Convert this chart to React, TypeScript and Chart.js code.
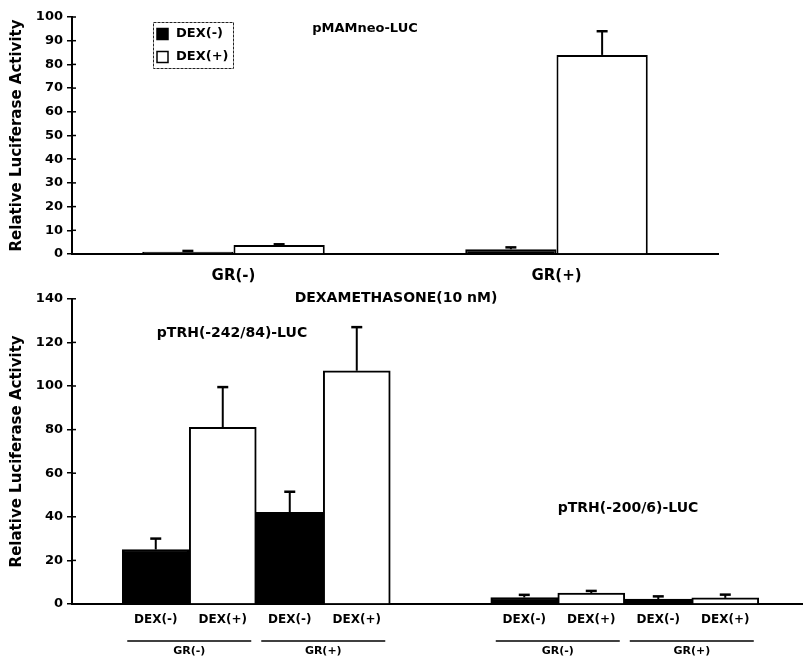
import React, { useEffect, useRef } from 'react';
import { Chart, registerables } from 'chart.js';

Chart.register(...registerables);

const FONT = '"DejaVu Sans", "Liberation Sans", sans-serif';

// ---------- shared labels ----------
const Y_TITLE = 'Relative Luciferase Activity';
const SERIES_NAMES = ['DEX(-)', 'DEX(+)'];

// ---------- top panel: pMAMneo-LUC ----------
const TOP_TITLE = 'pMAMneo-LUC';
const TOP_CATEGORIES = ['GR(-)', 'GR(+)'];
const MAM_DEX_MINUS = [1.0, 2.0];
const MAM_DEX_PLUS = [3.8, 84];
const MAM_DEX_MINUS_SD = [0.3, 0.8];
const MAM_DEX_PLUS_SD = [0.3, 10];
const TOP_Y_MAX = 100;
const TOP_Y_STEP = 10;

// ---------- bottom panel: pTRH constructs ----------
const BOTTOM_TITLE = 'DEXAMETHASONE(10 nM)';
const CONSTRUCTS = ['pTRH(-242/84)-LUC', 'pTRH(-200/6)-LUC'];
const GR_LABELS = ['GR(-)', 'GR(+)'];
const DEX_LABELS = ['DEX(-)', 'DEX(+)'];
const TRH242_DEX_MINUS = [25, 42];
const TRH242_DEX_PLUS = [81, 107];
const TRH242_DEX_MINUS_SD = [5, 9.5];
const TRH242_DEX_PLUS_SD = [18.5, 20];
const TRH200_DEX_MINUS = [3.0, 2.2];
const TRH200_DEX_PLUS = [5.0, 2.8];
const TRH200_DEX_MINUS_SD = [1.2, 1.3];
const TRH200_DEX_PLUS_SD = [1.0, 1.5];
const BOTTOM_Y_MAX = 140;
const BOTTOM_Y_STEP = 20;

// ---------- layout constants ----------
const W = 803;
const TOP_H = 287;
const BOT_H = 373;
const AXIS_W = 72;
const GROUP_STRIDE = 5.5;
const X_MIN = -1.25;
const X_MAX = 9.66;

const slot = (ci: number, gi: number, di: number) => ci * GROUP_STRIDE + gi * 2 + di;

const bold = (size: number) => ({ family: FONT, size, weight: 'bold' as const });

const errorBarPlugin = {
  id: 'errorBars',
  afterDatasetsDraw(chart: any) {
    const ctx = chart.ctx;
    const yScale = chart.scales.y;
    ctx.save();
    ctx.strokeStyle = '#000';
    chart.data.datasets.forEach((ds: any, i: number) => {
      const errs = ds.errorBars;
      if (!errs) return;
      const meta = chart.getDatasetMeta(i);
      meta.data.forEach((el: any, j: number) => {
        const err = errs[j];
        if (!err) return;
        const v = meta.controller.getParsed(j).y;
        const yTop = yScale.getPixelForValue(v + err);
        ctx.lineWidth = 2;
        ctx.beginPath();
        ctx.moveTo(el.x, el.y);
        ctx.lineTo(el.x, yTop);
        ctx.stroke();
        ctx.lineWidth = 2.5;
        ctx.beginPath();
        ctx.moveTo(el.x - 5.5, yTop);
        ctx.lineTo(el.x + 5.5, yTop);
        ctx.stroke();
      });
    });
    ctx.restore();
  },
};

const crossTickPlugin = {
  id: 'crossTicks',
  afterDatasetsDraw(chart: any) {
    const s = chart.scales.y;
    const ctx = chart.ctx;
    ctx.save();
    ctx.strokeStyle = '#000';
    ctx.lineWidth = 1.5;
    s.ticks.forEach((_t: any, i: number) => {
      const y = s.getPixelForTick(i);
      ctx.beginPath();
      ctx.moveTo(chart.chartArea.left, y);
      ctx.lineTo(chart.chartArea.left + 4, y);
      ctx.stroke();
    });
    ctx.restore();
  },
};

const textPlugin = {
  id: 'panelText',
  afterDraw(chart: any, _args: any, opts: any) {
    const ctx = chart.ctx;
    ctx.save();
    ctx.fillStyle = '#000';
    ctx.textAlign = 'center';
    ctx.textBaseline = 'middle';
    (opts.items || []).forEach((it: any) => {
      ctx.font = `bold ${it.size}px ${FONT}`;
      ctx.fillText(it.text, it.x, it.y);
    });
    ctx.restore();
  },
};

const legendPlugin = {
  id: 'boxLegend',
  afterDraw(chart: any, _args: any, opts: any) {
    if (!opts.box) return;
    const ctx = chart.ctx;
    const { x, y, w, h } = opts.box;
    ctx.save();
    ctx.strokeStyle = '#222';
    ctx.lineWidth = 1;
    ctx.setLineDash([3, 1]);
    ctx.strokeRect(x + 0.5, y + 0.5, w, h);
    ctx.setLineDash([]);
    chart.data.datasets.forEach((ds: any, i: number) => {
      const ry = y + 12 + i * 23;
      ctx.fillStyle = ds.backgroundColor;
      ctx.fillRect(x + 4, ry - 5.5, 11, 11);
      ctx.strokeStyle = '#000';
      ctx.lineWidth = 1.5;
      ctx.strokeRect(x + 4, ry - 5.5, 11, 11);
      ctx.fillStyle = '#000';
      ctx.font = `bold 13px ${FONT}`;
      ctx.textAlign = 'left';
      ctx.textBaseline = 'middle';
      ctx.fillText(ds.label, x + 23, ry);
    });
    ctx.restore();
  },
};

const groupPlugin = {
  id: 'grGroups',
  afterDraw(chart: any, _args: any, opts: any) {
    if (!opts.enabled) return;
    const xs = chart.scales.x;
    const ctx = chart.ctx;
    const base = chart.chartArea.bottom;
    ctx.save();
    ctx.strokeStyle = '#000';
    ctx.fillStyle = '#000';
    ctx.lineWidth = 1.5;
    ctx.textAlign = 'center';
    ctx.textBaseline = 'middle';
    ctx.font = `bold 11px ${FONT}`;
    CONSTRUCTS.forEach((_c, ci) => {
      GR_LABELS.forEach((g, gi) => {
        const a = xs.getPixelForValue(slot(ci, gi, 0));
        const b = xs.getPixelForValue(slot(ci, gi, 1));
        const cx = (a + b) / 2;
        ctx.beginPath();
        ctx.moveTo(cx - 62, base + 37);
        ctx.lineTo(cx + 62, base + 37);
        ctx.stroke();
        ctx.fillText(g, cx, base + 47);
      });
    });
    ctx.restore();
  },
};

const yAxis = (max: number, step: number) => ({
  min: 0,
  max,
  afterFit: (s: any) => { s.width = AXIS_W; },
  ticks: { stepSize: step, font: bold(13), color: '#000', padding: 4 },
  grid: { display: true, drawOnChartArea: false, drawTicks: true, tickLength: 5, color: '#000', lineWidth: 1.5 },
  border: { display: true, color: '#000', width: 2 },
  title: { display: true, text: Y_TITLE, font: bold(15), color: '#000', padding: { top: 8, bottom: 0 } },
});

function topConfig(): any {
  return {
    type: 'bar',
    data: {
      labels: TOP_CATEGORIES,
      datasets: [
        { label: SERIES_NAMES[0], data: MAM_DEX_MINUS, errorBars: MAM_DEX_MINUS_SD, backgroundColor: '#000', borderColor: '#000', borderWidth: 2 },
        { label: SERIES_NAMES[1], data: MAM_DEX_PLUS, errorBars: MAM_DEX_PLUS_SD, backgroundColor: '#fff', borderColor: '#000', borderWidth: 2 },
      ],
    },
    options: {
      responsive: false,
      animation: false,
      devicePixelRatio: 1,
      layout: { padding: { top: 17, right: W - 718, left: 0, bottom: 0 } },
      datasets: { bar: { categoryPercentage: 0.565, barPercentage: 1 } },
      scales: {
        x: {
          afterFit: (s: any) => { s.height = TOP_H - 254; },
          grid: { display: false, drawTicks: false },
          border: { display: true, color: '#000', width: 2 },
          ticks: { font: bold(15), color: '#000', padding: 13 },
        },
        y: yAxis(TOP_Y_MAX, TOP_Y_STEP),
      },
      plugins: {
        legend: { display: false },
        tooltip: { enabled: false },
        panelText: { items: [{ text: TOP_TITLE, x: 365, y: 29, size: 13 }] },
        boxLegend: { box: { x: 153, y: 22, w: 80, h: 46 } },
        grGroups: { enabled: false },
      },
    },
    plugins: [errorBarPlugin, crossTickPlugin, textPlugin, legendPlugin, groupPlugin],
  };
}

function bottomConfig(): any {
  const minusVals = [TRH242_DEX_MINUS, TRH200_DEX_MINUS];
  const plusVals = [TRH242_DEX_PLUS, TRH200_DEX_PLUS];
  const minusSd = [TRH242_DEX_MINUS_SD, TRH200_DEX_MINUS_SD];
  const plusSd = [TRH242_DEX_PLUS_SD, TRH200_DEX_PLUS_SD];
  const series = [minusVals, plusVals];
  const sds = [minusSd, plusSd];
  const tickList: { value: number; label: string }[] = [];
  CONSTRUCTS.forEach((_c, ci) => GR_LABELS.forEach((_g, gi) => DEX_LABELS.forEach((d, di) => {
    tickList.push({ value: slot(ci, gi, di), label: d });
  })));
  tickList.sort((a, b) => a.value - b.value);

  const datasets = SERIES_NAMES.map((name, di) => {
    const data: { x: number; y: number }[] = [];
    const err: number[] = [];
    CONSTRUCTS.forEach((_c, ci) => GR_LABELS.forEach((_g, gi) => {
      data.push({ x: slot(ci, gi, di), y: series[di][ci][gi] });
      err.push(sds[di][ci][gi]);
    }));
    return {
      label: name,
      data,
      errorBars: err,
      backgroundColor: di === 0 ? '#000' : '#fff',
      borderColor: '#000',
      borderWidth: 2,
    };
  });

  return {
    type: 'bar',
    data: { datasets },
    options: {
      responsive: false,
      animation: false,
      devicePixelRatio: 1,
      layout: { padding: { top: 8, right: 0, left: 0, bottom: 0 } },
      datasets: { bar: { grouped: false, categoryPercentage: 1, barPercentage: 1 } },
      scales: {
        x: {
          type: 'linear',
          offset: false,
          bounds: 'data',
          min: X_MIN,
          max: X_MAX,
          afterBuildTicks: (s: any) => { s.ticks = tickList.map(t => ({ value: t.value })); },
          afterFit: (s: any) => { s.height = BOT_H - 317; },
          grid: { display: false, drawTicks: false },
          border: { display: true, color: '#000', width: 2 },
          ticks: {
            autoSkip: false,
            maxRotation: 0,
            font: bold(12),
            color: '#000',
            padding: 9,
            callback: (_v: any, i: number) => tickList[i] ? tickList[i].label : '',
          },
        },
        y: yAxis(BOTTOM_Y_MAX, BOTTOM_Y_STEP),
      },
      plugins: {
        legend: { display: false },
        tooltip: { enabled: false },
        panelText: {
          items: [
            { text: BOTTOM_TITLE, x: 396, y: 11, size: 14 },
            { text: CONSTRUCTS[0], x: 232, y: 46, size: 14 },
            { text: CONSTRUCTS[1], x: 628, y: 221, size: 14 },
          ],
        },
        boxLegend: { box: null },
        grGroups: { enabled: true },
      },
    },
    plugins: [errorBarPlugin, crossTickPlugin, textPlugin, legendPlugin, groupPlugin],
  };
}

export default function App() {
  const topRef = useRef<HTMLCanvasElement>(null);
  const botRef = useRef<HTMLCanvasElement>(null);
  useEffect(() => {
    document.body.style.margin = '0';
    const top = new Chart(topRef.current as HTMLCanvasElement, topConfig());
    const bot = new Chart(botRef.current as HTMLCanvasElement, bottomConfig());
    return () => {
      top.destroy();
      bot.destroy();
    };
  }, []);
  return (
    <div style={{ position: 'relative', width: W, height: TOP_H + BOT_H, background: '#fff' }}>
      <canvas ref={topRef} width={W} height={TOP_H} style={{ position: 'absolute', left: 0, top: 0 }} />
      <canvas ref={botRef} width={W} height={BOT_H} style={{ position: 'absolute', left: 0, top: TOP_H }} />
    </div>
  );
}
